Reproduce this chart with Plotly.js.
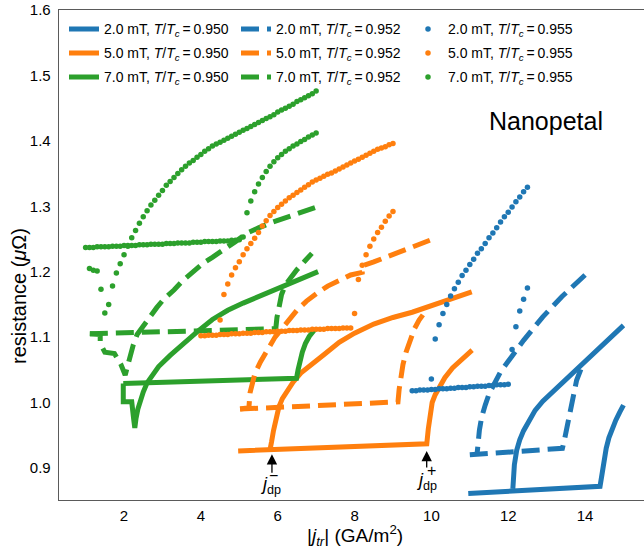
<!DOCTYPE html>
<html>
<head>
<meta charset="utf-8">
<script src="https://cdn.plot.ly/plotly-3.0.1.min.js"></script>
<style>html,body{margin:0;padding:0;background:#fff;}#chart{width:644px;height:550px;}</style>
</head>
<body>
<div id="chart"></div>
<script>
// ---------- data (j in GA/m^2, R in micro-ohm) ----------
// 2.0 mT, T/Tc = 0.950 (solid)
const s2F_j = [10.96, 14.39, 14.44, 14.49, 14.55, 14.62, 14.70, 14.80, 14.90, 15.00];
const s2F_R = [0.861, 0.872, 0.890, 0.910, 0.930, 0.946, 0.959, 0.973, 0.985, 0.996];
const s2B_j = [15.00, 14.60, 14.20, 13.80, 13.40, 13.10, 12.90, 12.70, 12.55, 12.40, 12.30, 12.22, 12.16, 12.13, 12.12];
const s2B_R = [1.118, 1.096, 1.073, 1.052, 1.030, 1.014, 1.002, 0.988, 0.974, 0.957, 0.943, 0.927, 0.905, 0.885, 0.868];
// 5.0 mT, T/Tc = 0.950 (solid)
const s5F_j = [4.97, 9.88, 9.92, 9.96, 10.02, 10.10, 10.20, 10.35, 10.55, 10.80, 11.06];
const s5F_R = [0.926, 0.937, 0.960, 0.983, 1.000, 1.012, 1.024, 1.038, 1.053, 1.067, 1.080];
const s5B_j = [11.05, 10.50, 9.96, 9.50, 9.00, 8.50, 8.00, 7.60, 7.20, 6.90, 6.60, 6.40, 6.25, 6.12, 6.03, 5.95, 5.89, 5.84, 5.80];
const s5B_R = [1.169, 1.158, 1.146, 1.138, 1.130, 1.120, 1.106, 1.092, 1.073, 1.060, 1.045, 1.031, 1.019, 1.006, 0.993, 0.975, 0.957, 0.940, 0.928];
// 7.0 mT, T/Tc = 0.950 (solid)
const s7F_j = [1.98, 6.49, 6.53, 6.58, 6.64, 6.72, 6.82, 6.97];
const s7F_R = [1.029, 1.037, 1.050, 1.063, 1.077, 1.090, 1.101, 1.112];
const s7B_j = [7.05, 6.60, 6.30, 5.90, 5.50, 5.10, 4.70, 4.30, 3.90, 3.50, 3.20, 2.90, 2.75, 2.60, 2.50, 2.42, 2.36, 2.31, 2.28, 2.25, 2.23, 2.20, 1.98, 1.98];
const s7B_R = [1.200, 1.189, 1.182, 1.172, 1.163, 1.152, 1.141, 1.127, 1.108, 1.088, 1.072, 1.055, 1.043, 1.030, 1.016, 1.004, 0.990, 0.975, 0.961, 0.975, 0.989, 1.001, 1.001, 1.029];

// 2.0 mT, T/Tc = 0.952 (dashed)
const d2F_j = [11.00, 13.41, 13.47, 13.54, 13.63, 13.70, 13.78, 13.90];
const d2F_R = [0.920, 0.930, 0.945, 0.965, 0.995, 1.015, 1.034, 1.052];
const d2B_j = [14.00, 13.40, 12.90, 12.40, 12.00, 11.80, 11.65, 11.50, 11.40, 11.31, 11.25, 11.21, 11.19];
const d2B_R = [1.195, 1.162, 1.131, 1.095, 1.063, 1.047, 1.030, 1.013, 0.996, 0.978, 0.958, 0.940, 0.922];
// 5.0 mT, T/Tc = 0.952 (dashed)
const d5F_j = [5.02, 9.13, 9.16, 9.20, 9.26, 9.34, 9.44, 9.56, 9.68, 9.78];
const d5F_R = [0.990, 1.001, 1.020, 1.040, 1.058, 1.077, 1.095, 1.113, 1.126, 1.134];
const d5B_j = [9.96, 9.40, 8.84, 8.50, 8.20, 8.20, 7.90, 7.62, 7.30, 7.02, 6.75, 6.50, 6.30, 6.14, 5.93, 5.72, 5.55, 5.41, 5.33, 5.28, 5.25, 5.02];
const d5B_R = [1.248, 1.235, 1.221, 1.215, 1.209, 1.199, 1.195, 1.188, 1.178, 1.167, 1.155, 1.141, 1.128, 1.115, 1.100, 1.080, 1.062, 1.045, 1.030, 1.015, 0.992, 0.990];
// 7.0 mT, T/Tc = 0.952 (dashed)
const d7F_j = [1.11, 5.95, 5.98, 6.03, 6.10, 6.20, 6.35, 6.50, 6.70, 6.89];
const d7F_R = [1.105, 1.113, 1.130, 1.148, 1.165, 1.180, 1.193, 1.203, 1.216, 1.228];
const d7B_j = [6.97, 6.40, 5.88, 5.50, 5.20, 4.90, 4.58, 4.30, 4.06, 3.80, 3.54, 3.30, 3.02, 2.85, 2.68, 2.50, 2.34, 2.24, 2.16, 2.08, 2.03, 1.92, 1.75, 1.50, 1.38, 1.38, 1.11];
const d7B_R = [1.298, 1.287, 1.276, 1.267, 1.259, 1.246, 1.232, 1.222, 1.213, 1.200, 1.187, 1.172, 1.157, 1.145, 1.132, 1.118, 1.104, 1.088, 1.069, 1.053, 1.042, 1.058, 1.075, 1.077, 1.090, 1.104, 1.105];

// 2.0 mT, T/Tc = 0.955 (dots)
const p2_j = [9.5, 9.6, 9.7, 9.8, 9.9, 10.0, 10.1, 10.2, 10.3, 10.4, 10.5, 10.6, 10.7, 10.8, 10.9, 11.0, 11.1, 11.2, 11.3, 11.4, 11.5, 11.6, 11.7, 11.8, 11.9, 12.0, 12.1, 12.2, 12.3, 12.4, 12.5,
  12.5, 12.4, 12.3, 12.2, 12.1, 12.0, 11.9, 11.8, 11.7, 11.6, 11.5, 11.4, 11.3, 11.2, 11.1, 11.0, 10.9, 10.8, 10.7, 10.6, 10.5, 10.4, 10.3, 10.2, 10.1, 10.0];
const p2_R = [1.018, 1.018, 1.019, 1.019, 1.019, 1.020, 1.020, 1.021, 1.021, 1.021, 1.022, 1.022, 1.023, 1.023, 1.023, 1.024, 1.024, 1.025, 1.025, 1.025, 1.026, 1.026, 1.027, 1.027, 1.027, 1.028, 1.081, 1.116, 1.140, 1.158, 1.175,
  1.329, 1.322, 1.314, 1.307, 1.299, 1.291, 1.284, 1.276, 1.267, 1.259, 1.252, 1.243, 1.235, 1.228, 1.219, 1.211, 1.202, 1.194, 1.184, 1.174, 1.163, 1.150, 1.136, 1.119, 1.097, 1.036];
// 5.0 mT, T/Tc = 0.955 (dots)
const p5_j = [4.0, 4.1, 4.2, 4.3, 4.4, 4.5, 4.6, 4.7, 4.8, 4.9, 5.0, 5.1, 5.2, 5.3, 5.4, 5.5, 5.6, 5.7, 5.8, 5.9, 6.0, 6.1, 6.2, 6.3, 6.4, 6.5, 6.6, 6.7, 6.8, 6.9, 7.0, 7.1, 7.2, 7.3, 7.4, 7.5, 7.6, 7.7, 7.8, 7.9, 8.0, 8.1, 8.2, 8.3, 8.4, 8.5, 8.6, 8.7, 8.8, 8.9, 9.0,
  9.0, 8.9, 8.8, 8.7, 8.6, 8.5, 8.4, 8.3, 8.2, 8.1, 8.0, 7.9, 7.8, 7.7, 7.6, 7.5, 7.4, 7.3, 7.2, 7.1, 7.0, 6.9, 6.8, 6.7, 6.6, 6.5, 6.4, 6.3, 6.2, 6.1, 6.0, 5.9, 5.8, 5.7, 5.6, 5.5, 5.4, 5.3, 5.2, 5.1, 5.0, 4.9, 4.8, 4.7, 4.6, 4.5];
const p5_R = [1.102, 1.102, 1.103, 1.103, 1.103, 1.104, 1.104, 1.104, 1.105, 1.105, 1.105, 1.106, 1.106, 1.106, 1.107, 1.107, 1.107, 1.108, 1.108, 1.108, 1.109, 1.109, 1.109, 1.110, 1.110, 1.110, 1.111, 1.111, 1.111, 1.112, 1.112, 1.112, 1.112, 1.113, 1.113, 1.113, 1.113, 1.114, 1.114, 1.114, 1.136, 1.188, 1.210, 1.226, 1.239, 1.250, 1.260, 1.268, 1.277, 1.285, 1.292,
  1.396, 1.394, 1.391, 1.389, 1.387, 1.384, 1.381, 1.378, 1.375, 1.372, 1.369, 1.366, 1.363, 1.360, 1.357, 1.354, 1.351, 1.349, 1.346, 1.343, 1.340, 1.337, 1.333, 1.329, 1.325, 1.321, 1.317, 1.313, 1.308, 1.303, 1.298, 1.292, 1.286, 1.278, 1.270, 1.260, 1.251, 1.243, 1.235, 1.226, 1.215, 1.206, 1.195, 1.181, 1.165, 1.126];
// 7.0 mT, T/Tc = 0.955 (dots)
const p7_j = [1.0, 1.1, 1.2, 1.3, 1.4, 1.5, 1.6, 1.7, 1.8, 1.9, 2.0, 2.1, 2.2, 2.3, 2.4, 2.5, 2.6, 2.7, 2.8, 2.9, 3.0, 3.1, 3.2, 3.3, 3.4, 3.5, 3.6, 3.7, 3.8, 3.9, 4.0, 4.1, 4.2, 4.3, 4.4, 4.5, 4.6, 4.7, 4.8, 4.9, 5.0, 5.1, 5.2, 5.3, 5.4, 5.5, 5.6, 5.7, 5.8, 5.9, 6.0, 6.1, 6.2, 6.3, 6.4, 6.5, 6.6, 6.7, 6.8, 6.9, 7.0,
  7.0, 6.9, 6.8, 6.7, 6.6, 6.5, 6.4, 6.3, 6.2, 6.1, 6.0, 5.9, 5.8, 5.7, 5.6, 5.5, 5.4, 5.3, 5.2, 5.1, 5.0, 4.9, 4.8, 4.7, 4.6, 4.5, 4.4, 4.3, 4.2, 4.1, 4.0, 3.9, 3.8, 3.7, 3.6, 3.5, 3.4, 3.3, 3.2, 3.1, 3.0, 2.9, 2.8, 2.7, 2.6, 2.5, 2.4, 2.3, 2.2, 2.1, 2.0, 1.9, 1.8, 1.7, 1.6, 1.5, 1.4, 1.3, 1.2, 1.1];
const p7_R = [1.237, 1.237, 1.237, 1.238, 1.238, 1.238, 1.238, 1.239, 1.239, 1.239, 1.240, 1.240, 1.240, 1.240, 1.241, 1.241, 1.241, 1.242, 1.242, 1.242, 1.242, 1.243, 1.243, 1.243, 1.244, 1.244, 1.244, 1.244, 1.245, 1.245, 1.245, 1.246, 1.246, 1.246, 1.246, 1.247, 1.247, 1.247, 1.248, 1.248, 1.249, 1.253, 1.290, 1.308, 1.322, 1.334, 1.344, 1.353, 1.361, 1.368, 1.374, 1.379, 1.384, 1.388, 1.392, 1.395, 1.399, 1.402, 1.406, 1.409, 1.412,
  1.476, 1.472, 1.469, 1.466, 1.463, 1.460, 1.456, 1.453, 1.450, 1.447, 1.444, 1.440, 1.437, 1.434, 1.431, 1.428, 1.425, 1.422, 1.419, 1.416, 1.413, 1.410, 1.407, 1.404, 1.401, 1.398, 1.395, 1.392, 1.388, 1.384, 1.379, 1.375, 1.370, 1.366, 1.361, 1.356, 1.350, 1.344, 1.338, 1.332, 1.324, 1.317, 1.309, 1.302, 1.293, 1.284, 1.274, 1.263, 1.252, 1.239, 1.226, 1.212, 1.198, 1.178, 1.150, 1.137, 1.173, 1.201, 1.202, 1.205];

const fields = ['2.0', '5.0', '7.0'];
const temps = ['0.950', '0.952', '0.955'];
const colors = ['#1f77b4', '#ff7f0e', '#2ca02c'];
const xTicks = [2, 4, 6, 8, 10, 12, 14];
const yTicks = [0.9, 1.0, 1.1, 1.2, 1.3, 1.4, 1.5, 1.6];

// ---------- traces ----------
const FONT = 'Liberation Sans, Arial, Helvetica, sans-serif';
const DASH = '18px,8px';
const legendIds = ['legend', 'legend2', 'legend3'];
function label(f, t) {
  return f + ' mT, <i>T</i>/<i>T</i><sub><i>c</i></sub>\u2009=\u2009' + t;
}
function lineTrace(Fj, FR, Bj, BR, k, ti, dash) {
  return {
    type: 'scatter', mode: 'lines',
    x: Fj.concat([null], Bj), y: FR.concat([null], BR),
    line: {color: colors[k], width: 5, dash: dash},
    name: label(fields[k], temps[ti]),
    legend: legendIds[k], legendrank: 1 + ti,
    connectgaps: false, hoverinfo: 'skip'
  };
}
function dotTrace(j, R, k) {
  return {
    type: 'scatter', mode: 'markers', x: j, y: R,
    marker: {color: colors[k], size: 5.5, line: {width: 0}},
    name: label(fields[k], temps[2]),
    legend: legendIds[k], legendrank: 3, hoverinfo: 'skip'
  };
}
const data = [
  lineTrace(s2F_j, s2F_R, s2B_j, s2B_R, 0, 0, 'solid'),
  lineTrace(s5F_j, s5F_R, s5B_j, s5B_R, 1, 0, 'solid'),
  lineTrace(s7F_j, s7F_R, s7B_j, s7B_R, 2, 0, 'solid'),
  lineTrace(d2F_j, d2F_R, d2B_j, d2B_R, 0, 1, DASH),
  lineTrace(d5F_j, d5F_R, d5B_j, d5B_R, 1, 1, DASH),
  lineTrace(d7F_j, d7F_R, d7B_j, d7B_R, 2, 1, DASH),
  dotTrace(p2_j, p2_R, 0),
  dotTrace(p5_j, p5_R, 1),
  dotTrace(p7_j, p7_R, 2)
];

const axisCommon = {
  showgrid: false, zeroline: false, showline: true,
  linecolor: '#5a5a5a', linewidth: 1.3, ticks: '',
  tickfont: {family: FONT, size: 15, color: '#000'}
};
function legendAt(yTopPx) {
  return {
    orientation: 'h', x: (64 - 59) / 585, xanchor: 'left', y: (500 - yTopPx) / 490, yanchor: 'top',
    entrywidth: 127, entrywidthmode: 'pixels', traceorder: 'normal',
    font: {family: FONT, size: 14, color: '#000'}, bgcolor: 'rgba(0,0,0,0)'
  };
}

const layout = {
  width: 644, height: 550,
  margin: {l: 59, r: 0, t: 10, b: 50, pad: 0},
  paper_bgcolor: '#fff', plot_bgcolor: '#fff',
  font: {family: FONT, color: '#000'},
  showlegend: true,
  legend: legendAt(13.4),
  legend2: legendAt(37.4),
  legend3: legendAt(61.4),
  xaxis: Object.assign({}, axisCommon, {
    range: [0.307, 15.534], tickvals: xTicks, ticktext: xTicks.map(String),
    mirror: true, ticklabelstandoff: 2
  }),
  yaxis: Object.assign({}, axisCommon, {
    range: [0.851, 1.6], tickvals: yTicks, ticktext: yTicks.map(v => v.toFixed(1)),
    ticklabelstandoff: 4
  }),
  annotations: [
    {xref: 'paper', yref: 'paper', x: (546 - 59) / 585, y: (500 - 121) / 490, text: 'Nanopetal',
     showarrow: false, font: {family: FONT, size: 25, color: '#000'}, xanchor: 'center', yanchor: 'middle'},
    {xref: 'paper', yref: 'paper', x: (19 - 59) / 585, y: (500 - 296) / 490, text: 'resistance (<i>μ</i>Ω)',
     textangle: -90, showarrow: false, font: {family: FONT, size: 20, color: '#000'}, xanchor: 'center', yanchor: 'middle'},
    {xref: 'paper', yref: 'paper', x: (355 - 59) / 585, y: (500 - 535) / 490,
     text: '|<i>j</i><sub><i>tr</i></sub>| (GA/m<sup>2</sup>)',
     showarrow: false, font: {family: FONT, size: 19, color: '#000'}, xanchor: 'center', yanchor: 'middle'},
    // j_dp^- arrow and label
    {xref: 'x', yref: 'y', x: 5.85, y: 0.921, ax: 0, ay: 20, text: '', showarrow: true,
     arrowhead: 2, arrowsize: 1.6, arrowwidth: 1.3, arrowcolor: '#000'},
    {xref: 'x', yref: 'y', x: 5.825, y: 0.8725, text: '<i>j</i><sub>dp</sub>', showarrow: false,
     font: {family: FONT, size: 18, color: '#000'}, xanchor: 'center', yanchor: 'middle'},
    {xref: 'x', yref: 'y', x: 5.88, y: 0.889, text: '\u2212', showarrow: false,
     font: {family: FONT, size: 16, color: '#000'}, xanchor: 'center', yanchor: 'middle'},
    // j_dp^+ arrow and label
    {xref: 'x', yref: 'y', x: 9.878, y: 0.926, ax: 0, ay: 18, text: '', showarrow: true,
     arrowhead: 2, arrowsize: 1.6, arrowwidth: 1.3, arrowcolor: '#000'},
    {xref: 'x', yref: 'y', x: 9.864, y: 0.8786, text: '<i>j</i><sub>dp</sub>', showarrow: false,
     font: {family: FONT, size: 18, color: '#000'}, xanchor: 'center', yanchor: 'middle'},
    {xref: 'x', yref: 'y', x: 9.99, y: 0.8960, text: '+', showarrow: false,
     font: {family: FONT, size: 16, color: '#000'}, xanchor: 'center', yanchor: 'middle'}
  ]
};

Plotly.newPlot('chart', data, layout, {staticPlot: true, displayModeBar: false});
</script>
</body>
</html>
